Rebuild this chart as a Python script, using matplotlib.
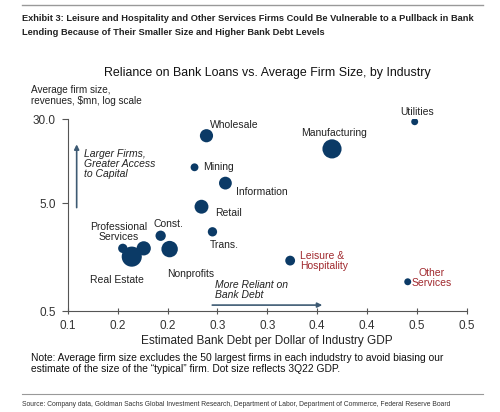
import numpy as np
import matplotlib
matplotlib.use("Agg")
import matplotlib.pyplot as plt

plt.rcParams["font.family"] = ["Liberation Sans", "DejaVu Sans"]

# industry data
industries = ["Wholesale", "Mining", "Information", "Retail", "Const.", "Trans.",
              "Nonprofits", "Professional\nServices", "Real Estate", "",
              "Manufacturing", "Utilities", "Leisure &\nHospitality", "Other\nServices"]
bank_debt = [0.239, 0.227, 0.258, 0.234, 0.193, 0.245,
             0.202, 0.155, 0.164, 0.176,
             0.365, 0.448, 0.323, 0.441]
firm_size = [21.2, 10.8, 7.7, 4.65, 2.5, 2.72,
             1.88, 1.91, 1.60, 1.91,
             16.0, 28.6, 1.47, 0.935]
gdp_weight = [90, 32, 85, 100, 55, 45,
              140, 45, 210, 105,
              190, 25, 50, 25]
highlight = [False] * 12 + [True, True]

# label offsets in pixels (dx, dy) and alignment
label_pos = [(3, 11, "left"), (9, 0, "left"), (11, -9, "left"), (14, -6, "left"),
             (8, 12, "center"), (12, -13, "center"), (21, -25, "center"),
             (-4, 16, "center"), (-15, -23, "center"), (0, 0, "center"),
             (2, 16, "center"), (2, 10, "center"), (10, 0, "left"), (24, 4, "center")]

x_ticks = [0.10, 0.15, 0.20, 0.25, 0.30, 0.35, 0.40, 0.45, 0.50]
x_ticklabels = ["0.1", "0.2", "0.2", "0.3", "0.3", "0.4", "0.4", "0.5", "0.5"]
y_ticks = [0.5, 5.0, 30.0]
y_ticklabels = ["0.5", "5.0", "30.0"]

navy = "#0b3a66"
red = "#a0282d"
grey = "#555555"

fig = plt.figure(figsize=(5, 4.12), dpi=100)
ax = fig.add_axes([0.136, 0.245, 0.797, 0.465])

ax.scatter(bank_debt, firm_size, s=gdp_weight, color=navy, zorder=3, linewidths=0)

for name, x, y, (dx, dy, ha), hl in zip(industries, bank_debt, firm_size, label_pos, highlight):
    if not name:
        continue
    ax.annotate(name, (x, y), xytext=(dx, dy), textcoords="offset pixels",
                ha=ha, va="center", fontsize=7.5, color=red if hl else "#222222",
                multialignment="left" if ha == "left" else "center", linespacing=1.0)

ax.set_yscale("log")
ax.set_xlim(0.1, 0.5)
ax.set_ylim(0.5, 30.0)
ax.set_xticks(x_ticks)
ax.set_xticklabels(x_ticklabels)
ax.set_yticks(y_ticks)
ax.set_yticklabels(y_ticklabels)
ax.yaxis.set_minor_locator(matplotlib.ticker.NullLocator())
ax.tick_params(axis="x", direction="inout", length=5, width=0.8, color=grey,
               labelsize=8.5, labelcolor="#333333", pad=4)
ax.tick_params(axis="y", direction="out", length=4, width=0.8, color=grey,
               labelsize=8.5, labelcolor="#333333", pad=5)
for side in ["top", "right"]:
    ax.spines[side].set_visible(False)
for side in ["left", "bottom"]:
    ax.spines[side].set_color(grey)
    ax.spines[side].set_linewidth(0.8)

ax.set_xlabel("Estimated Bank Debt per Dollar of Industry GDP", fontsize=8.5,
              color="#222222", labelpad=2)

# direction arrows
arrow_col = "#3d5a73"
ax.annotate("", xy=(0.1087, 18.7), xytext=(0.1087, 4.3),
            arrowprops=dict(arrowstyle="-|>", color=arrow_col, lw=1.2, mutation_scale=7))
ax.text(0.116, 16.0, "Larger Firms,\nGreater Access\nto Capital", style="italic",
        fontsize=7.5, color="#222222", va="top", linespacing=1.0)
ax.annotate("", xy=(0.358, 0.568), xytext=(0.242, 0.568),
            arrowprops=dict(arrowstyle="-|>", color=arrow_col, lw=1.2, mutation_scale=7))
ax.text(0.248, 0.63, "More Reliant on\nBank Debt", style="italic",
        fontsize=7.5, color="#222222", va="bottom", linespacing=1.0)

# header
fig.add_artist(plt.Line2D([0.044, 0.966], [0.988, 0.988], color="#999999", lw=1))
fig.text(0.044, 0.966, "Exhibit 3: Leisure and Hospitality and Other Services Firms Could Be Vulnerable to a Pullback in Bank\n"
         "Lending Because of Their Smaller Size and Higher Bank Debt Levels",
         weight="bold", fontsize=6.7, color="#222222", va="top", linespacing=1.75)
fig.text(0.534, 0.823, "Reliance on Bank Loans vs. Average Firm Size, by Industry",
         fontsize=8.9, ha="center", va="center", color="#111111")
fig.text(0.062, 0.742, "Average firm size,\nrevenues, $mn, log scale", fontsize=7.2,
         va="bottom", color="#222222", linespacing=1.1)

fig.text(0.062, 0.117, "Note: Average firm size excludes the 50 largest firms in each indudstry to avoid biasing our\n"
         "estimate of the size of the \u201ctypical\u201d firm. Dot size reflects 3Q22 GDP.",
         fontsize=7.4, va="center", color="#111111", linespacing=1.1)

fig.add_artist(plt.Line2D([0.044, 0.966], [0.044, 0.044], color="#999999", lw=0.8))
fig.text(0.044, 0.017, "Source: Company data, Goldman Sachs Global Investment Research, Department of Labor, "
         "Department of Commerce, Federal Reserve Board",
         fontsize=4.9, va="center", color="#333333")

fig.savefig("out.png", dpi=100)
